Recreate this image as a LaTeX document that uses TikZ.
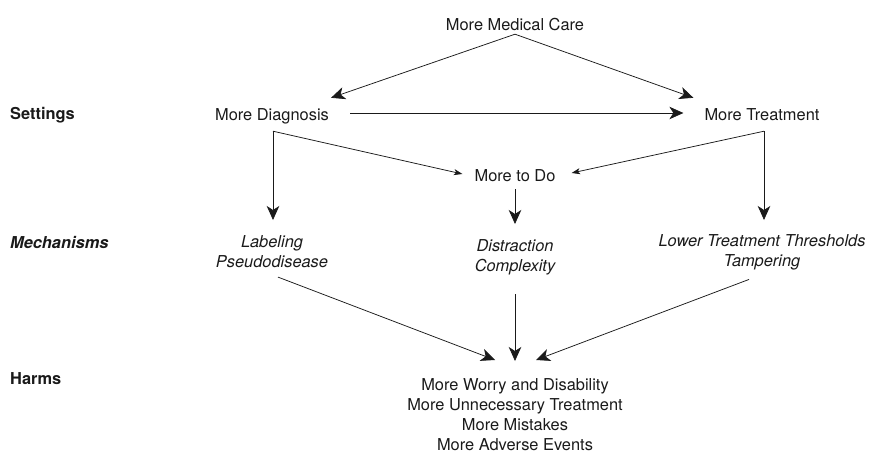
\documentclass[tikz,border=0pt]{standalone}
\usepackage{fontspec}
\setmainfont{TeX Gyre Heros}
\usetikzlibrary{arrows.meta}
\definecolor{ink}{HTML}{1A1A1A}
\tikzset{
  lbl/.style={inner sep=0pt, text=ink, font=\fontsize{16.4}{20}\selectfont, text height=12pt, text depth=4pt},
  mechtxt/.style={inner sep=0pt, text=ink, font=\fontsize{16.4}{20.5}\selectfont\itshape, align=center},
  harmtxt/.style={inner sep=0pt, text=ink, font=\fontsize{16.4}{20}\selectfont, align=center},
  cat/.style={inner sep=0pt, text=ink, font=\fontsize{16.4}{20}\selectfont\bfseries},
  big/.style={draw=ink, line width=0.75pt, -{Stealth[length=14pt,width=12.5pt,inset=4pt]}},
  small/.style={draw=ink, line width=0.75pt, -{Stealth[length=8.5pt,width=6pt,inset=2.2pt]}}
}
\begin{document}
\begin{tikzpicture}[x=1pt,y=-1pt]
\useasboundingbox (0,0) rectangle (870,463);
\node[lbl, anchor=base] (mmc) at (515,30) {More Medical Care};
\node[lbl, anchor=base] (diag) at (272,120) {More Diagnosis};
\node[lbl, anchor=base] (treat) at (762,120) {More Treatment};
\node[lbl, anchor=base] (todo) at (515,181) {More to Do};
\node[mechtxt, anchor=north] (lab) at (272,235) {Labeling\\Pseudodisease};
\node[mechtxt, anchor=north] (dist) at (515,239) {Distraction\\Complexity};
\node[mechtxt, anchor=north] (low) at (762,234) {Lower Treatment Thresholds\\Tampering};
\node[harmtxt, anchor=north] (harm) at (515,378) {More Worry and Disability\\More Unnecessary Treatment\\More Mistakes\\More Adverse Events};
\node[cat, anchor=base west] (set) at (10,119) {Settings};
\node[cat, anchor=base west] (mec) at (10,248) {\itshape Mechanisms};
\node[cat, anchor=base west] (hrm) at (10,384) {Harms};
% settings level
\draw[big] (mmc.south) -- ([xshift=2pt,yshift=10pt]diag.north east);
\draw[big] (mmc.south) -- ([xshift=-11pt,yshift=10pt]treat.north west);
\draw[big] ([xshift=21pt,yshift=3pt]diag.east) -- ([xshift=-21pt,yshift=3pt]treat.west);
% from more diagnosis
\coordinate (dc) at ([xshift=1pt,yshift=-7pt]diag.south);
\draw[big] (dc) -- ([xshift=1pt,yshift=15pt]lab.north);
\draw[small] (dc) -- ([xshift=-12pt,yshift=3pt]todo.west);
% from more treatment
\coordinate (tc) at ([xshift=2pt,yshift=-7pt]treat.south);
\draw[big] (tc) -- ([xshift=2pt,yshift=14pt]low.north);
\draw[small] (tc) -- ([xshift=16pt,yshift=4pt]todo.east);
% more to do
\draw[big] ([yshift=-4pt]todo.south) -- ([yshift=15pt]dist.north);
% to harms
\draw[big] ([xshift=6pt,yshift=-9pt]lab.south) -- ([xshift=-20pt,yshift=18pt]harm.north);
\draw[big] ([yshift=-19pt]dist.south) -- ([yshift=17pt]harm.north);
\draw[big] ([xshift=-13pt,yshift=-9pt]low.south) -- ([xshift=21pt,yshift=18pt]harm.north);
\end{tikzpicture}
\end{document}
